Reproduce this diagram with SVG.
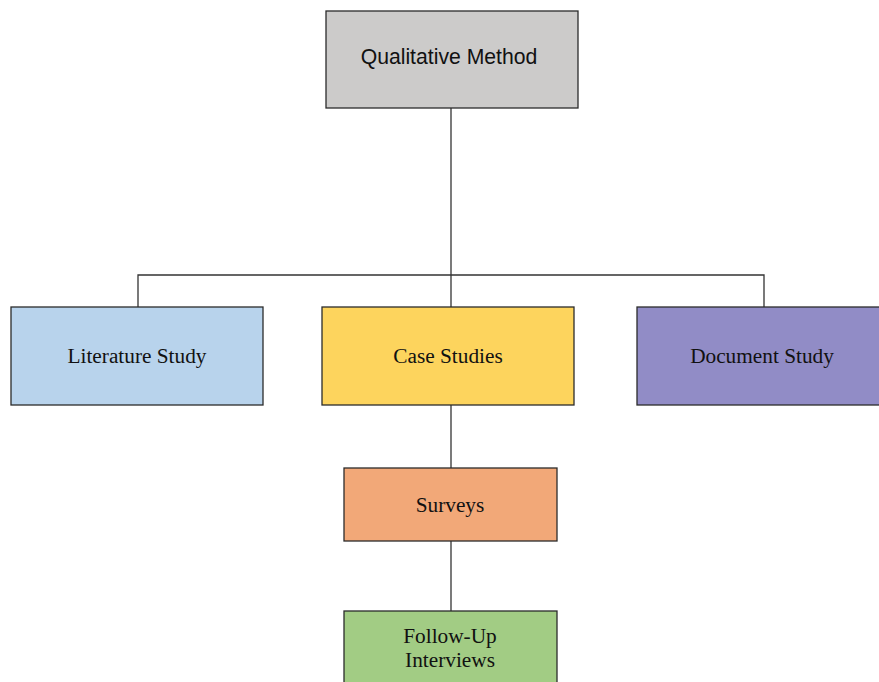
<svg xmlns="http://www.w3.org/2000/svg" width="879" height="682" viewBox="0 0 879 682">
  <style>
    .box { stroke: #2b2b2b; stroke-width: 1.3; }
    .serif { font-family: "Liberation Serif", "Times New Roman", serif; font-size: 21.3px; fill: #111; text-anchor: middle; }
    .sans { font-family: "Liberation Sans", Arial, sans-serif; font-size: 21.2px; fill: #111; text-anchor: middle; }
    .link { stroke: #333; stroke-width: 1.3; fill: none; }
  </style>
  <rect width="879" height="682" fill="#ffffff"/>

  <g id="connectors">
    <path class="link" d="M451 108 V275"/>
    <path class="link" d="M138 307 V275 H764 V307"/>
    <path class="link" d="M451 275 V307"/>
    <path class="link" d="M451 405 V468"/>
    <path class="link" d="M451 541 V611"/>
  </g>

  <g id="qualitative-method">
    <rect class="box" x="326" y="11" width="252" height="97" fill="#cccbca"/>
    <text class="sans" x="449" y="64">Qualitative Method</text>
  </g>

  <g id="literature-study">
    <rect class="box" x="11" y="307" width="252" height="98" fill="#b8d3ec"/>
    <text class="serif" x="137" y="363">Literature Study</text>
  </g>

  <g id="case-studies">
    <rect class="box" x="322" y="307" width="252" height="98" fill="#fdd45d"/>
    <text class="serif" x="448" y="363">Case Studies</text>
  </g>

  <g id="document-study">
    <rect class="box" x="637" y="307" width="260" height="98" fill="#918cc6"/>
    <text class="serif" x="762" y="363">Document Study</text>
  </g>

  <g id="surveys">
    <rect class="box" x="344" y="468" width="213" height="73" fill="#f2a878"/>
    <text class="serif" x="450" y="512">Surveys</text>
  </g>

  <g id="follow-up-interviews">
    <rect class="box" x="344" y="611" width="213" height="90" fill="#a2cc84"/>
    <text class="serif" x="450" y="643">Follow-Up</text>
    <text class="serif" x="450" y="667">Interviews</text>
  </g>
</svg>
